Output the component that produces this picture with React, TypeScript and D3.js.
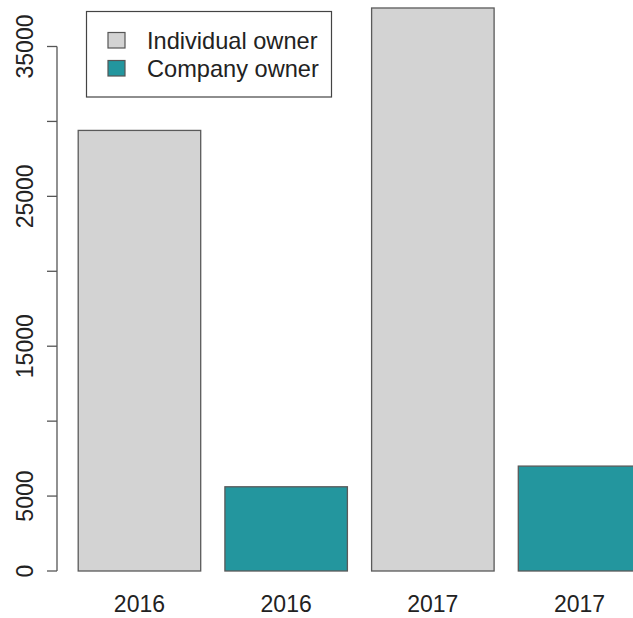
import React from "react";
import * as d3 from "d3";

const categories = ["2016", "2016", "2017", "2017"];
const values = [29400, 5620, 37570, 7000];
const groups = ["Individual owner", "Company owner", "Individual owner", "Company owner"];
const legendLabels = ["Individual owner", "Company owner"];
const legendColors = ["#D3D3D3", "#23969E"];
const yTicks = [0, 5000, 10000, 15000, 20000, 25000, 30000, 35000];
const yTickLabels = [0, 5000, 15000, 25000, 35000];

const W = 633;
const H = 618;
const FONT = "'Liberation Sans', Arial, Helvetica, sans-serif";

export default function App() {
  const y = d3.scaleLinear().domain([0, 35000]).range([571, 46.5]);
  const bandW = 146.7;
  const barW = 122.5;
  const x0 = 78.2 - (bandW - barW);
  const x = (i: number) => x0 + (bandW - barW) + i * bandW;
  const color = d3.scaleOrdinal<string, string>().domain(legendLabels).range(legendColors);

  return (
    <svg width={W} height={H} style={{ position: "absolute", left: 0, top: 0, background: "#fff" }} fontFamily={FONT}>
      {values.map((v, i) => (
        <rect
          key={i}
          x={x(i)}
          y={y(v)}
          width={barW}
          height={y(0) - y(v)}
          fill={color(groups[i])}
          stroke="#5a5a5a"
          strokeWidth={1.3}
        />
      ))}
      {/* y axis */}
      <line x1={57} x2={57} y1={y(0)} y2={y(35000)} stroke="#555" strokeWidth={1.3} />
      {yTicks.map((t) => (
        <line key={t} x1={47} x2={57} y1={y(t)} y2={y(t)} stroke="#555" strokeWidth={1.3} />
      ))}
      {yTickLabels.map((t) => (
        <text
          key={t}
          transform={`translate(33,${y(t)}) rotate(-90)`}
          textAnchor="middle"
          fontSize={23}
          fill="#222"
        >
          {t}
        </text>
      ))}
      {categories.map((c, i) => (
        <text key={i} x={x(i) + barW / 2} y={612} textAnchor="middle" fontSize={23} fill="#222">
          {c}
        </text>
      ))}
      {/* legend */}
      <rect x={86.5} y={11.5} width={245} height={85.5} fill="#fff" stroke="#444" strokeWidth={1.2} />
      {legendLabels.map((l, i) => (
        <g key={l}>
          <rect x={108} y={32.5 + i * 28} width={17} height={15.5} fill={legendColors[i]} stroke="#555" strokeWidth={1.2} />
          <text x={147} y={48.5 + i * 28} fontSize={23.6} fill="#222">
            {l}
          </text>
        </g>
      ))}
    </svg>
  );
}
